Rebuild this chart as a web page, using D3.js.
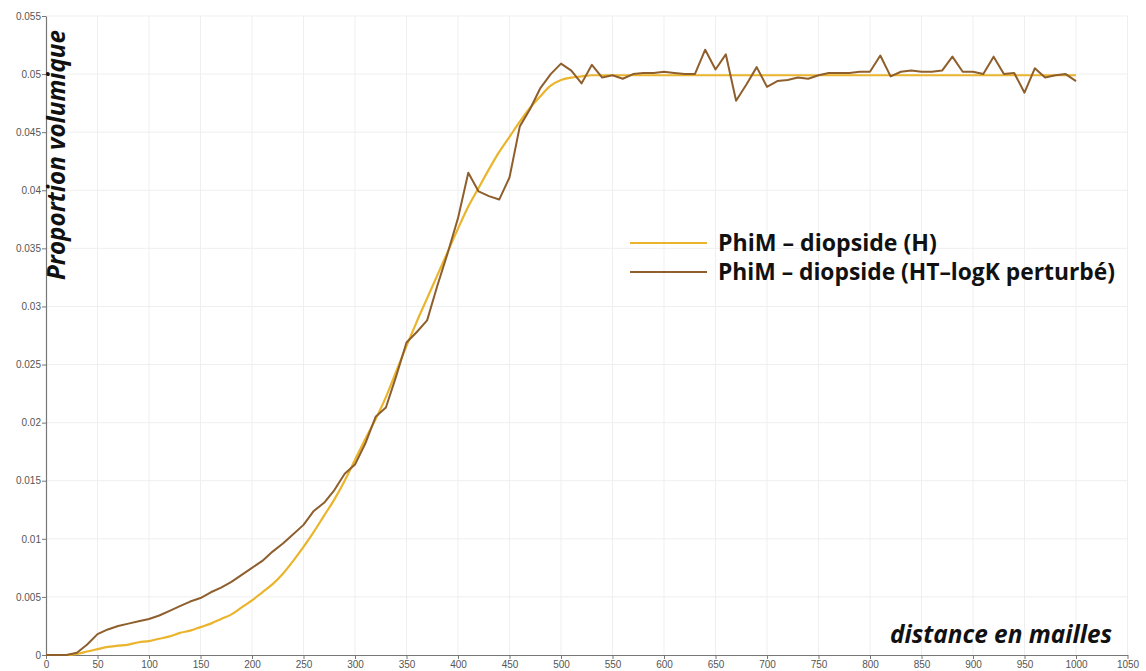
<!DOCTYPE html>
<html>
<head>
<meta charset="utf-8">
<script src="https://cdn.jsdelivr.net/npm/d3@7"></script>
<style>
html,body{margin:0;padding:0;background:#fff;}
svg{display:block;}
</style>
</head>
<body>
<svg id="chart" width="1146" height="671"></svg>
<script>
// ---- data ----
const xTicks = [0,50,100,150,200,250,300,350,400,450,500,550,600,650,700,750,800,850,900,950,1000,1050];
const yTicks = [0,0.005,0.01,0.015,0.02,0.025,0.03,0.035,0.04,0.045,0.05,0.055];
const yTickLabels = ["0","0.005","0.01","0.015","0.02","0.025","0.03","0.035","0.04","0.045","0.05","0.055"];
const distances = [0,10,20,30,40,50,60,70,80,90,100,110,120,130,140,150,160,170,180,190,200,
  210,220,230,240,250,260,270,280,290,300,310,320,330,340,350,360,370,380,390,400,
  410,420,430,440,450,460,470,480,490,500,510,520,530,540,550,560,570,580,590,600,
  610,620,630,640,650,660,670,680,690,700,710,720,730,740,750,760,770,780,790,800,
  810,820,830,840,850,860,870,880,890,900,910,920,930,940,950,960,970,980,990,1000];
const seriesH = [0,0,0,0.0001,0.0003,0.0005,0.0007,0.0008,0.0009,0.0011,0.0012,
  0.0014,0.0016,0.0019,0.0021,0.0024,0.0027,0.0031,0.0035,0.0041,0.0047,
  0.0054,0.0061,0.0070,0.0081,0.0093,0.0106,0.0120,0.0134,0.0150,0.0168,
  0.0186,0.0203,0.0222,0.0244,0.0266,0.0287,0.0307,0.0327,0.0347,0.0367,
  0.0386,0.0402,0.0418,0.0433,0.0446,0.0459,0.0471,0.0481,0.0490,0.0495,
  0.0497,0.0498,0.0499,0.0499,0.0499,0.0499,0.0499,0.0499,0.0499,0.0499,
  0.0499,0.0499,0.0499,0.0499,0.0499,0.0499,0.0499,0.0499,0.0499,0.0499,
  0.0499,0.0499,0.0499,0.0499,0.0499,0.0499,0.0499,0.0499,0.0499,0.0499,
  0.0499,0.0499,0.0499,0.0499,0.0499,0.0499,0.0499,0.0499,0.0499,0.0499,
  0.0499,0.0499,0.0499,0.0499,0.0499,0.0499,0.0499,0.0499,0.0499,0.0499];
const seriesHT = [0,0,0,0.0002,0.0009,0.0018,0.0022,0.0025,0.0027,0.0029,0.0031,
  0.0034,0.0038,0.0042,0.0046,0.0049,0.0054,0.0058,0.0063,0.0069,0.0075,
  0.0081,0.0089,0.0096,0.0104,0.0112,0.0124,0.0131,0.0142,0.0156,0.0164,
  0.0182,0.0205,0.0213,0.0240,0.0269,0.0278,0.0288,0.0318,0.0346,0.0376,
  0.0415,0.0399,0.0395,0.0392,0.0411,0.0455,0.0470,0.0488,0.0500,0.0509,
  0.0503,0.0492,0.0508,0.0497,0.0499,0.0496,0.0500,0.0501,0.0501,0.0502,
  0.0501,0.0500,0.0500,0.0521,0.0504,0.0517,0.0477,0.0491,0.0506,0.0489,
  0.0494,0.0495,0.0497,0.0496,0.0499,0.0501,0.0501,0.0501,0.0502,0.0502,
  0.0516,0.0498,0.0502,0.0503,0.0502,0.0502,0.0503,0.0515,0.0502,0.0502,
  0.0500,0.0515,0.0500,0.0501,0.0484,0.0505,0.0497,0.0499,0.0500,0.0494];
const legendLabels = ["PhiM \u2013 diopside (H)", "PhiM \u2013 diopside (HT\u2013logK perturb\u00e9)"];
const xTitle = "distance en mailles";
const yTitle = "Proportion volumique";

// ---- layout ----
const svg = d3.select("#chart");
const x = d3.scaleLinear().domain([0,1050]).range([46,1127.5]);
const y = d3.scaleLinear().domain([0,0.055]).range([655,16]);
const colH = "#eab52c";
const colHT = "#8e5f2c";

function fitText(sel, target, base) {
  sel.attr("font-size", base);
  const L = sel.node().getComputedTextLength();
  if (L > 0) sel.attr("font-size", (base * target / L).toFixed(2));
  return sel;
}

// grid
const grid = svg.append("g");
grid.selectAll("line.v").data(xTicks.slice(1)).enter().append("line")
  .attr("x1", d=>x(d)).attr("x2", d=>x(d)).attr("y1", y(0)).attr("y2", y(0.055))
  .attr("stroke", "#efefef").attr("stroke-width", 1);
grid.selectAll("line.h").data(yTicks.slice(1)).enter().append("line")
  .attr("x1", x(0)).attr("x2", x(1050)).attr("y1", d=>y(d)).attr("y2", d=>y(d))
  .attr("stroke", "#efefef").attr("stroke-width", 1);

// axes
const xAxis = d3.axisBottom(x).tickValues(xTicks).tickSize(4).tickSizeOuter(0).tickFormat(d3.format("d"));
const yAxis = d3.axisLeft(y).tickValues(yTicks).tickSize(4).tickSizeOuter(0).tickFormat((d,i)=>yTickLabels[i]);
const gx = svg.append("g").attr("transform", `translate(0,${y(0)})`).call(xAxis);
const gy = svg.append("g").attr("transform", `translate(${x(0)},0)`).call(yAxis);
[gx, gy].forEach(g => {
  g.select(".domain").attr("stroke", "#777").attr("stroke-width", 1.2);
  g.selectAll(".tick line").attr("stroke", "#777");
  g.selectAll(".tick text").attr("fill", "#555").attr("font-family", "Liberation Sans, Arial, sans-serif").attr("font-size", 10);
});
gx.selectAll(".tick text").attr("dy", "0.55em");
gy.selectAll(".tick text").attr("x", -5);

// lines
const pts = (vals) => distances.map((d,i)=>[d, vals[i]]);
svg.append("path").datum(pts(seriesH))
  .attr("d", d3.line().curve(d3.curveMonotoneX).x(d=>x(d[0])).y(d=>y(d[1])))
  .attr("fill","none").attr("stroke", colH).attr("stroke-width", 2.2);
svg.append("path").datum(pts(seriesHT))
  .attr("d", d3.line().x(d=>x(d[0])).y(d=>y(d[1])))
  .attr("fill","none").attr("stroke", colHT).attr("stroke-width", 2).attr("stroke-linejoin","round");

// legend
const legend = svg.append("g");
const legColors = [colH, colHT];
const legWidths = [219, 397];
legendLabels.forEach((lab,i) => {
  const yy = 243 + i*29;
  legend.append("line").attr("x1", 630).attr("x2", 707).attr("y1", yy).attr("y2", yy)
    .attr("stroke", legColors[i]).attr("stroke-width", 2.2);
  const t = legend.append("text").attr("x", 718).attr("y", yy + 8).text(lab)
    .attr("font-family", "Open Sans, sans-serif").attr("font-weight", "bold").attr("fill", "#111");
  fitText(t, legWidths[i], 20);
});

// axis titles
const xt = svg.append("text").attr("x", 1112).attr("y", 643).attr("text-anchor", "end").text(xTitle)
  .attr("font-family", "Open Sans, sans-serif").attr("font-weight", "bold").attr("font-style", "italic")
  .attr("fill", "#111");
fitText(xt, 222, 22);
const yt = svg.append("text").attr("transform", "translate(65,280) rotate(-90)").attr("text-anchor", "start").text(yTitle)
  .attr("font-family", "Open Sans, sans-serif").attr("font-weight", "bold").attr("font-style", "italic")
  .attr("fill", "#111");
fitText(yt, 250, 22);
</script>
</body>
</html>
